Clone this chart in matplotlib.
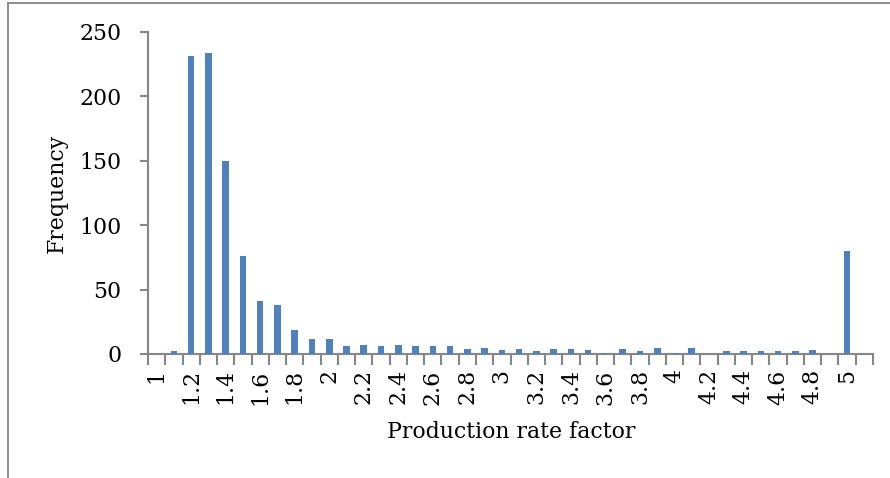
import matplotlib.pyplot as plt
from matplotlib.lines import Line2D

# histogram bins (upper bin edges) and counts
bins = ["1", "1.1", "1.2", "1.3", "1.4", "1.5", "1.6", "1.7", "1.8", "1.9",
        "2", "2.1", "2.2", "2.3", "2.4", "2.5", "2.6", "2.7", "2.8", "2.9",
        "3", "3.1", "3.2", "3.3", "3.4", "3.5", "3.6", "3.7", "3.8", "3.9",
        "4", "4.1", "4.2", "4.3", "4.4", "4.5", "4.6", "4.7", "4.8", "4.9",
        "5", "More"]
counts = [0, 2, 231, 234, 150, 76, 41, 38, 19, 12,
          12, 6, 7, 6, 7, 6, 6, 6, 4, 5,
          3, 4, 2, 4, 4, 3, 1, 4, 2, 5,
          1, 5, 0, 2, 2, 2, 2, 2, 3, 0,
          80, 0]
yticks = [0, 50, 100, 150, 200, 250]

plt.rcParams['font.family'] = ['DejaVu Serif']
FS = 15.8
AXIS_GRAY = "#868686"

fig = plt.figure(figsize=(8.9, 4.78), dpi=100)
ax = fig.add_axes([148 / 890, 1 - 354 / 478, 725 / 890, 322 / 478])

x = list(range(len(bins)))
ax.bar(x, counts, width=0.38, color="#4F81BD", zorder=3)

ax.set_xlim(-0.5, len(bins) - 0.5)
ax.set_ylim(0, 250)

# every other bin gets a label, tick marks sit between bins
ax.set_xticks(x[::2])
ax.set_xticklabels(bins[::2], rotation=90, fontsize=FS, va="top", ha="center")
ax.set_xticks([i - 0.5 for i in range(len(bins) + 1)], minor=True)
ax.tick_params(axis="x", which="major", length=0, pad=11)
ax.tick_params(axis="x", which="minor", length=8, width=1.5, color=AXIS_GRAY)

ax.set_yticks(yticks)
ax.set_yticklabels([str(v) for v in yticks], fontsize=FS)
ax.tick_params(axis="y", length=6, width=1.5, color=AXIS_GRAY, pad=13)

for side in ("top", "right"):
    ax.spines[side].set_visible(False)
for side in ("left", "bottom"):
    ax.spines[side].set_color(AXIS_GRAY)
    ax.spines[side].set_linewidth(1.5)

fig.text(511 / 890, 1 - 432 / 478, "Production rate factor",
         fontsize=FS, ha="center", va="center")
fig.text(57 / 890, 1 - 193 / 478, "Frequency",
         fontsize=FS, rotation=90, ha="center", va="center")

# chart area border (top and left edges)
fig.add_artist(Line2D([7.5 / 890, 1], [1 - 3 / 478, 1 - 3 / 478],
                      transform=fig.transFigure, color=AXIS_GRAY, lw=1.3))
fig.add_artist(Line2D([7.5 / 890, 7.5 / 890], [0, 1 - 3 / 478],
                      transform=fig.transFigure, color=AXIS_GRAY, lw=1.3))

fig.savefig("out.png", dpi=100)
